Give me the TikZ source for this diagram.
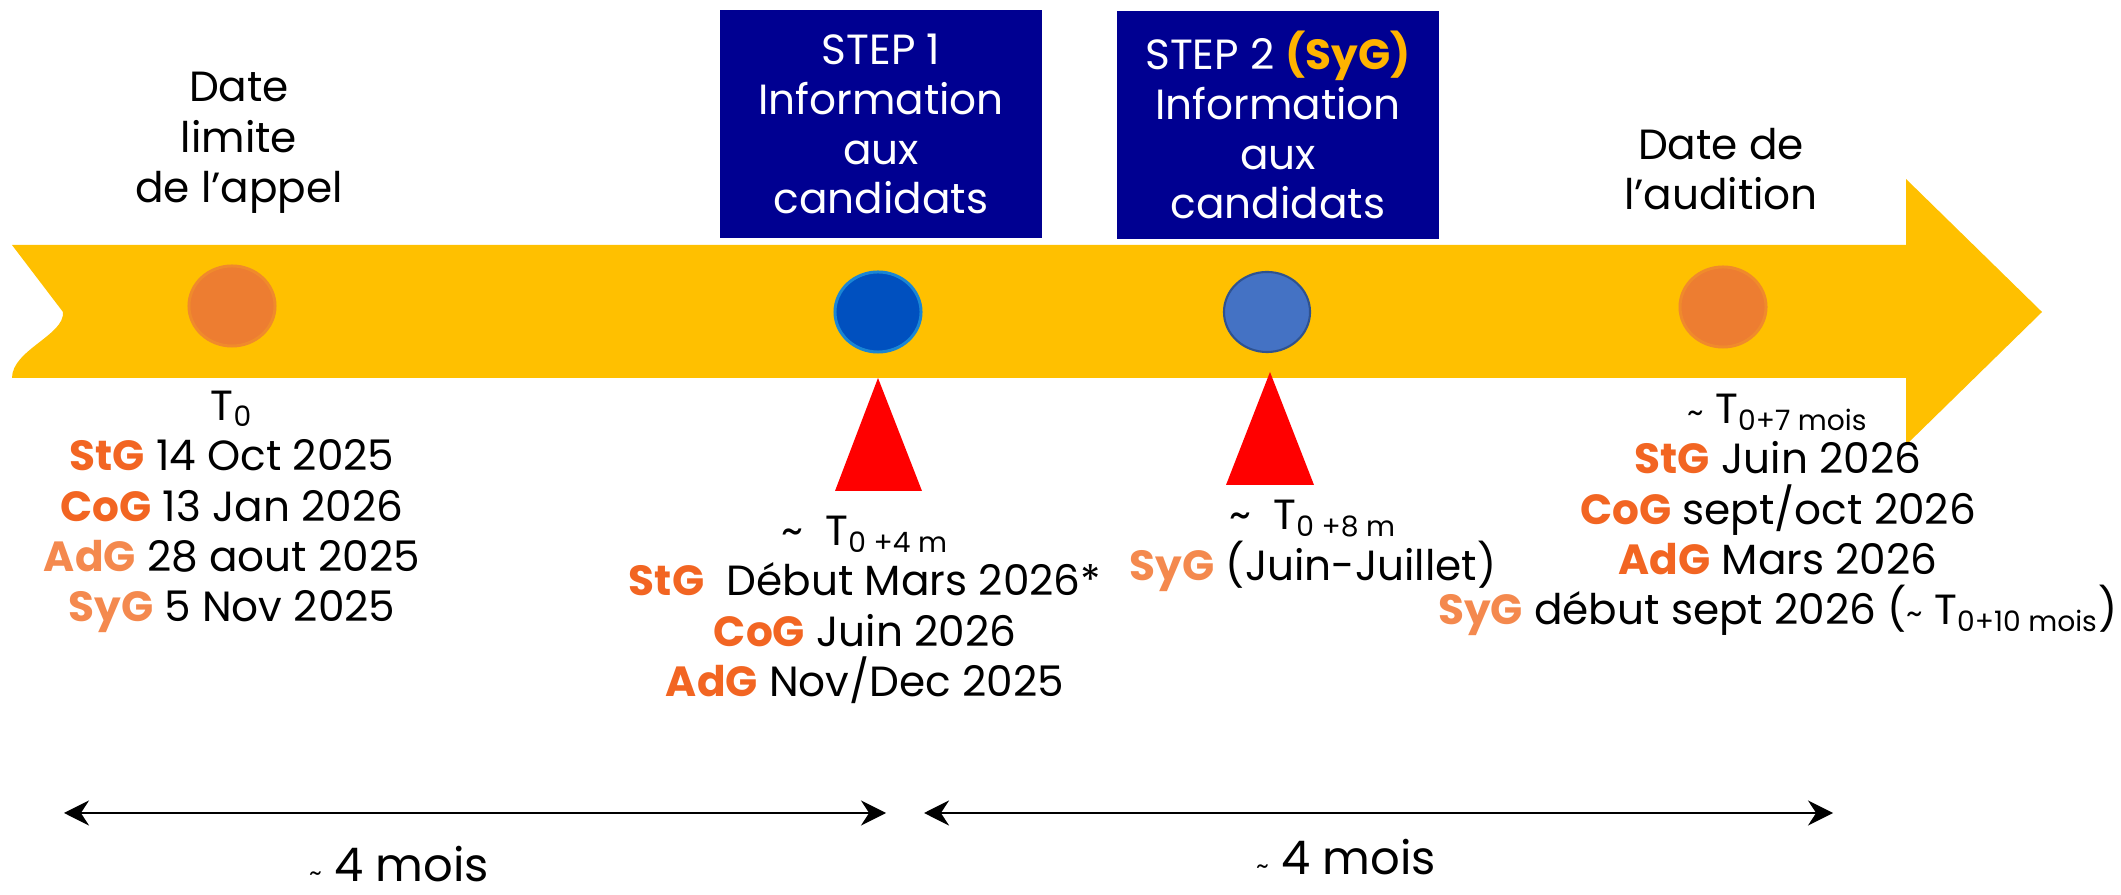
\documentclass[tikz,border=0pt]{standalone}
\usepackage{fontspec}
\setmainfont{Poppins}
\usetikzlibrary{shapes.geometric,arrows.meta}

\definecolor{jaune}{HTML}{FFC000}
\definecolor{bleufrance}{HTML}{000091}
\definecolor{ambre}{HTML}{FFB400}
\definecolor{orfonce}{HTML}{F26522}
\definecolor{orclair}{HTML}{F4894E}
\definecolor{boule}{HTML}{ED7D31}
\definecolor{bouleombre}{HTML}{A8521A}
\definecolor{bouletrait}{HTML}{F08A2C}
\definecolor{bleuvif}{HTML}{0050BF}
\definecolor{bleuombre}{HTML}{002F80}
\definecolor{bleutrait}{HTML}{1A86D4}
\definecolor{bleuclair}{HTML}{4472C4}
\definecolor{bleuclairtrait}{HTML}{2F528F}

\pgfdeclareradialshading{bouleorange}{\pgfpoint{0bp}{0bp}}{color(0bp)=(boule); color(30bp)=(boule); color(50bp)=(bouleombre)}
\pgfdeclareradialshading{boulebleue}{\pgfpoint{0bp}{0bp}}{color(0bp)=(bleuvif); color(30bp)=(bleuvif); color(50bp)=(bleuombre)}

\newcommand{\progf}[1]{\textbf{\color{orfonce}#1}}
\newcommand{\progc}[1]{\textbf{\color{orclair}#1}}

\begin{document}
\begin{tikzpicture}[x=0.01cm,y=-0.01cm,
				texte/.style={align=center,font=\fontsize{12}{14.3}\selectfont},
				etape/.style={fill=bleufrance,text=white,align=center,
					minimum width=3.22cm,minimum height=2.28cm,font=\fontsize{12}{14.2}\selectfont},
				jalon/.style={ellipse,minimum width=0.86cm,minimum height=0.8cm,inner sep=0pt},
				duree/.style={{Stealth[length=0.25cm,width=0.25cm]}-{Stealth[length=0.25cm,width=0.25cm]},line width=0.6pt}]
\useasboundingbox (0,0) rectangle (2121,895);
% la fleche du calendrier
\fill[jaune] (12,245) -- (1906,245) -- (1906,179) -- (2042,312) -- (1906,445) -- (1906,378)
	-- (12,378) .. controls (12,350) and (65,335) .. (63,312) -- cycle;
% jalons
\node[jalon,draw=bouletrait,line width=0.85pt,shade,shading=bouleorange] (t0) at (232,306) {};
\node[jalon,draw=bleutrait,line width=0.85pt,shade,shading=boulebleue] (t1) at (878,312) {};
\node[jalon,draw=bleuclairtrait,line width=0.6pt,fill=bleuclair] (t2) at (1267,312) {};
\node[jalon,draw=bouletrait,line width=0.85pt,shade,shading=bouleorange] (t3) at (1723,307) {};
\fill[red] (835,491) -- (878,378) -- (922,491) -- cycle;
\fill[red] (1226,485) -- (1270,372) -- (1314,485) -- cycle;
% etapes
\node[etape] (step1) at (881,124) {STEP 1\\Information\\aux\\candidats};
\node[etape] (step2) at (1278,125) {STEP 2 \textbf{\color{ambre}(SyG)}\\Information\\aux\\candidats};
% textes
\node[texte] (appel) at (239,143) {Date\\limite\\de l'appel};
\node[texte] (audition) at (1721,169) {Date de\\l'audition};
\node[texte] (d0) at (232,512) {T\textsubscript{0}\\\progf{StG} 14 Oct 2025\\\progf{CoG} 13 Jan 2026\\
	\progc{AdG} 28 aout 2025\\\progc{SyG} 5 Nov 2025};
\node[texte] (d1) at (865,610) {\textasciitilde\ \ T\textsubscript{0 +4 m}\\\progf{StG}\ \ Début Mars 2026*\\
	\progf{CoG} Juin 2026\\\progf{AdG} Nov/Dec 2025};
\node[texte] (d2) at (1313,546) {\textasciitilde\ \ T\textsubscript{0 +8 m}\\\progc{SyG} (Juin-Juillet)};
\node[texte] (d3) at (1778,515) {{\small\textasciitilde}\ T\textsubscript{0+7 mois}\\\progf{StG} Juin 2026\\
	\progf{CoG} sept/oct 2026\\\progf{AdG} Mars 2026\\
	\progc{SyG} début sept 2026 ({\small\textasciitilde}\ T\textsubscript{0+10 mois})};
% durees
\coordinate (g1) at (64,813);
\coordinate (g2) at (886,813);
\coordinate (g3) at (924,813);
\coordinate (g4) at (1833,813);
\draw[duree] (g1) -- (g2);
\draw[duree] (g3) -- (g4);
\node[inner sep=0pt,font=\fontsize{13.2}{16}\selectfont] (m1) at (399,864) {{\scriptsize\textasciitilde}\ 4 mois};
\node[inner sep=0pt,font=\fontsize{13.2}{16}\selectfont] (m2) at (1346,857) {{\scriptsize\textasciitilde}\ 4 mois};
\end{tikzpicture}
\end{document}
